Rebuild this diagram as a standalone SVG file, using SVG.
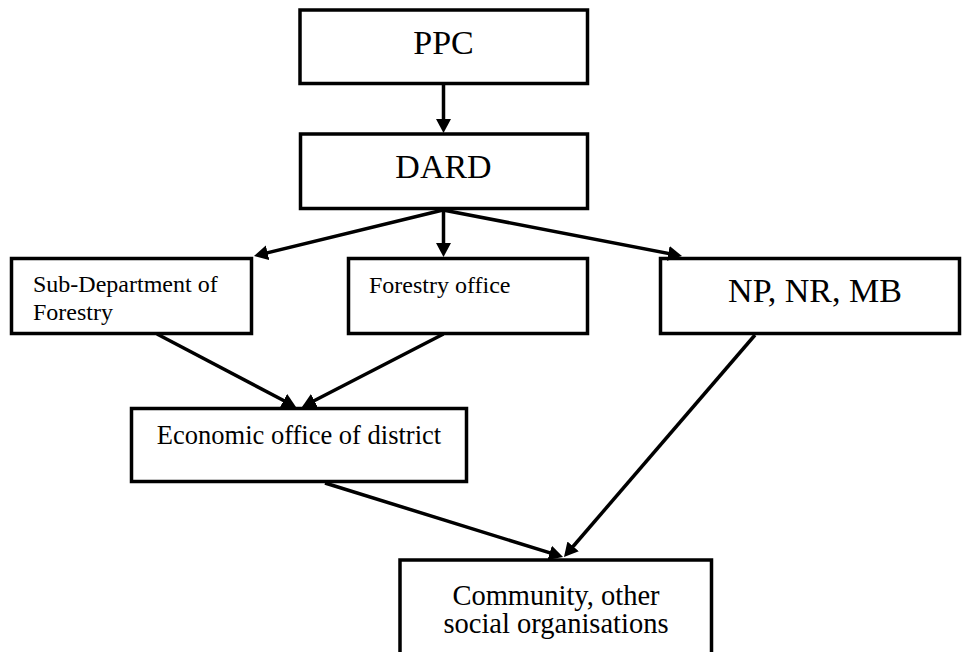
<svg xmlns="http://www.w3.org/2000/svg" width="963" height="652" viewBox="0 0 963 652">
  <style>
    .box { fill: #fff; stroke: #000; stroke-width: 3.5; }
    .t { font-family: "Liberation Serif", "Times New Roman", serif; fill: #000; }
    .big { font-size: 34px; text-anchor: middle; }
    .small { font-size: 24px; }
    .conn line { stroke: #000; stroke-width: 3.5; marker-end: url(#arrow); }
  </style>
  <defs>
    <marker id="arrow" markerUnits="userSpaceOnUse" markerWidth="16" markerHeight="16" refX="8" refY="7.5" orient="auto">
      <path d="M0,0 L14,7.5 L0,15 Z" fill="#000"/>
    </marker>
    <clipPath id="subclip">
      <rect x="0" y="250" width="260" height="79"/>
    </clipPath>
  </defs>
  <rect width="963" height="652" fill="#fff"/>

  <g id="ppc">
    <rect class="box" x="300" y="10" width="287.5" height="73.5"/>
    <text class="t big" x="443.5" y="54">PPC</text>
  </g>
  <g id="dard">
    <rect class="box" x="300.5" y="134" width="287" height="74.5"/>
    <text class="t big" x="443.5" y="178">DARD</text>
  </g>
  <g id="subdept">
    <rect class="box" x="11.5" y="258.5" width="240" height="75"/>
    <text class="t small" clip-path="url(#subclip)"><tspan x="33" y="292">Sub-Department of</tspan><tspan x="33" y="320">Forestry</tspan></text>
  </g>
  <g id="forestry">
    <rect class="box" x="348.5" y="258.5" width="239" height="75"/>
    <text class="t small" x="369" y="293">Forestry office</text>
  </g>
  <g id="np">
    <rect class="box" x="660.5" y="258.5" width="299" height="75"/>
    <text class="t big" x="815" y="302">NP, NR, MB</text>
  </g>
  <g id="economic">
    <rect class="box" x="131.5" y="408.5" width="335" height="73"/>
    <text class="t" x="299" y="444" font-size="26.5" text-anchor="middle">Economic office of district</text>
  </g>
  <g id="community">
    <rect class="box" x="400" y="560" width="311.5" height="100"/>
    <text class="t" font-size="28.5" text-anchor="middle"><tspan x="556" y="605">Community, other</tspan><tspan x="556" y="633">social organisations</tspan></text>
  </g>

  <g id="connectors" class="conn">
    <line x1="443.5" y1="85" x2="443.5" y2="127"/>
    <line x1="443" y1="210" x2="259.8" y2="254.6"/>
    <line x1="443.5" y1="210" x2="443.5" y2="251"/>
    <line x1="443" y1="210" x2="676.1" y2="254.9"/>
    <line x1="157" y1="334" x2="290.7" y2="404.2"/>
    <line x1="443.5" y1="334" x2="307.3" y2="404.25"/>
    <line x1="325" y1="483" x2="557.3" y2="555.2"/>
    <line x1="755" y1="335" x2="567.9" y2="552.5"/>
  </g>
</svg>
